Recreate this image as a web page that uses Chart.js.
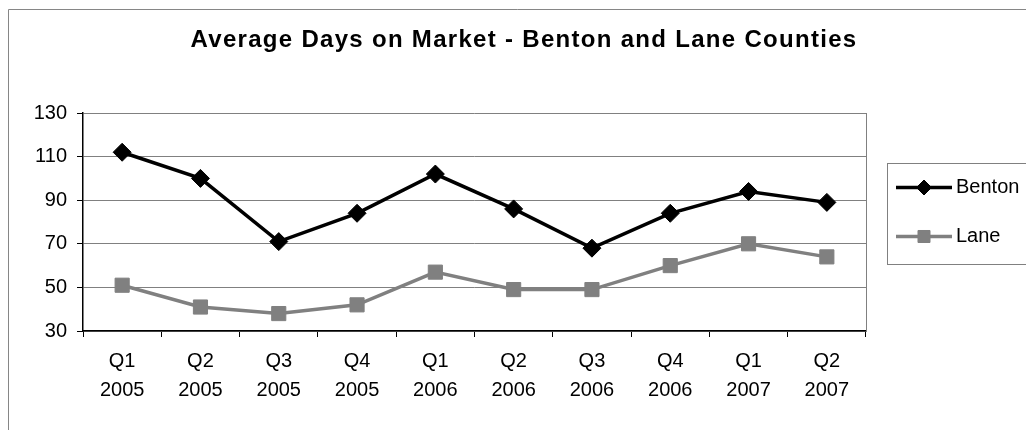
<!DOCTYPE html>
<html lang="en">
  <head>
    <meta charset="UTF-8" />
    <title>Average Days on Market</title>
    <script src="https://cdn.jsdelivr.net/npm/chart.js@4.4.0/dist/chart.umd.min.js"></script>
    <style>
      html, body { margin: 0; padding: 0; background: #fff; }
    </style>
  </head>
  <body>
    <canvas id="chart" width="1026" height="430"></canvas>
    <script>
      const quarters = ['Q1', 'Q2', 'Q3', 'Q4', 'Q1', 'Q2', 'Q3', 'Q4', 'Q1', 'Q2'];
      const years = ['2005', '2005', '2005', '2005', '2006', '2006', '2006', '2006', '2007', '2007'];
      const benton = [112, 100, 71, 84, 102, 86, 68, 84, 94, 89];
      const lane = [51, 41, 38, 42, 57, 49, 49, 60, 70, 64];
      const yTicks = [30, 50, 70, 90, 110, 130];
      const chartTitle = 'Average Days on Market - Benton and Lane Counties';

      const labels = quarters.map((q, i) => [q, years[i]]);
      const FONT = 'Arial, "Liberation Sans", sans-serif';

      // outer frame, title, right edge of plot and the legend box
      const decor = {
        id: 'decor',
        beforeDraw(chart) {
          const ctx = chart.ctx;
          ctx.save();
          ctx.strokeStyle = '#868686';
          ctx.lineWidth = 1;
          ctx.beginPath();
          ctx.moveTo(8.5, 440);
          ctx.lineTo(8.5, 9.5);
          ctx.lineTo(1040, 9.5);
          ctx.stroke();
          ctx.restore();
        },
        afterDraw(chart) {
          const ctx = chart.ctx;
          const a = chart.chartArea;
          ctx.save();
          // title
          ctx.fillStyle = '#000';
          ctx.font = 'bold 24px ' + FONT;
          ctx.letterSpacing = '1.3px';
          ctx.textAlign = 'center';
          ctx.textBaseline = 'alphabetic';
          ctx.fillText(chartTitle, 524, 47);
          ctx.letterSpacing = '0px';
          // right border of plot
          ctx.strokeStyle = '#808080';
          ctx.lineWidth = 1;
          ctx.beginPath();
          ctx.moveTo(Math.round(a.right) + 0.5, a.top);
          ctx.lineTo(Math.round(a.right) + 0.5, a.bottom);
          ctx.stroke();
          // legend
          ctx.strokeStyle = '#808080';
          ctx.strokeRect(887.5, 163.5, 200, 101);
          const rows = [187.5, 236.5];
          chart.data.datasets.forEach((ds, i) => {
            const y = rows[i];
            ctx.strokeStyle = ds.borderColor;
            ctx.lineWidth = ds.borderWidth;
            ctx.beginPath();
            ctx.moveTo(896, y);
            ctx.lineTo(952, y);
            ctx.stroke();
            ctx.fillStyle = ds.pointBackgroundColor;
            ctx.strokeStyle = ds.pointBorderColor;
            ctx.lineWidth = 1;
            Chart.helpers.drawPoint(ctx, { pointStyle: ds.pointStyle, radius: ds.pointRadius - 1.5, borderWidth: 1 }, 924, y);
            ctx.fillStyle = '#000';
            ctx.font = '20px ' + FONT;
            ctx.textAlign = 'left';
            ctx.textBaseline = 'middle';
            ctx.fillText(ds.label, 956, y);
          });
          ctx.restore();
        }
      };

      new Chart(document.getElementById('chart'), {
        type: 'line',
        data: {
          labels: labels,
          datasets: [
            {
              label: 'Benton',
              data: benton,
              borderColor: '#000000',
              backgroundColor: '#000000',
              borderWidth: 3.5,
              pointStyle: 'rectRot',
              pointRadius: 9,
              pointBackgroundColor: '#000000',
              pointBorderColor: '#000000',
              pointBorderWidth: 1,
              tension: 0
            },
            {
              label: 'Lane',
              data: lane,
              borderColor: '#808080',
              backgroundColor: '#808080',
              borderWidth: 3.5,
              pointStyle: 'rect',
              pointRadius: 10,
              pointBackgroundColor: '#808080',
              pointBorderColor: '#808080',
              pointBorderWidth: 1,
              tension: 0
            }
          ]
        },
        options: {
          responsive: false,
          animation: false,
          layout: { padding: { left: 8, top: 113, right: 160, bottom: 0 } },
          plugins: {
            legend: { display: false },
            title: { display: false },
            tooltip: { enabled: false }
          },
          scales: {
            x: {
              offset: true,
              afterFit(scale) { scale.height = 99; },
              grid: {
                offset: true,
                drawOnChartArea: false,
                drawTicks: true,
                tickLength: 6,
                tickColor: '#000'
              },
              border: { color: '#000', width: 1.5 },
              ticks: {
                color: '#000',
                padding: 10,
                maxRotation: 0,
                autoSkip: false,
                font: { family: FONT, size: 20, lineHeight: 1.45 }
              }
            },
            y: {
              min: 30,
              max: 130,
              afterFit(scale) { scale.width = 75; },
              afterBuildTicks(scale) { scale.ticks = yTicks.map(v => ({ value: v })); },
              grid: {
                color: '#808080',
                tickLength: 6,
                tickColor: '#000'
              },
              border: { color: '#000', width: 1.5 },
              ticks: {
                color: '#000',
                padding: 10,
                font: { family: FONT, size: 20 }
              }
            }
          }
        },
        plugins: [decor]
      });
    </script>
  </body>
</html>
